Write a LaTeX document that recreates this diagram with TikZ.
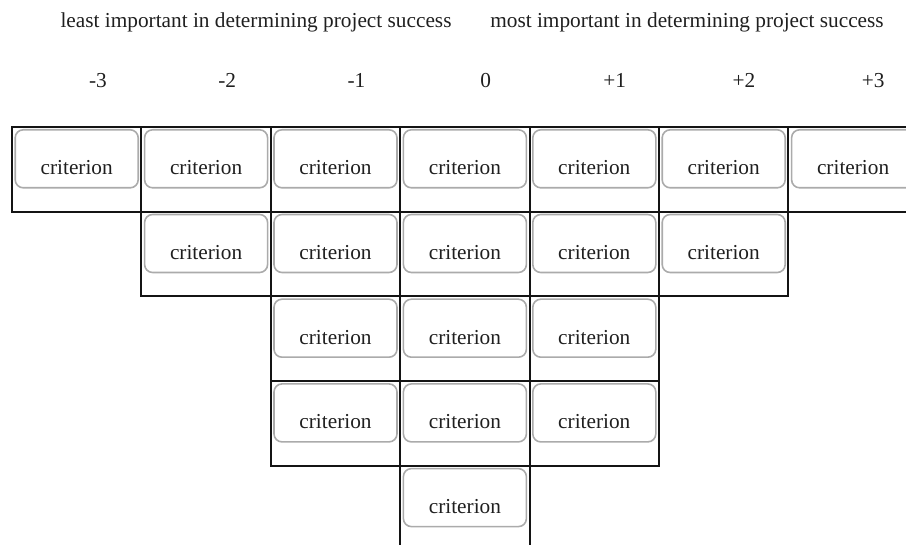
\documentclass[tikz,border=0pt]{standalone}
\usepackage{fontspec}
\setmainfont{Liberation Serif}
\usetikzlibrary{positioning}

\begin{document}
\begin{tikzpicture}[
    x=1pt, y=-1pt,
    every node/.style={
        font=\fontsize{21.3}{25}\selectfont,
        text=black!88
    },
    cell/.style={
        draw=black!92, line width=2pt,
        minimum width=129.4pt, minimum height=84.7pt,
        inner sep=0pt, anchor=north west
    },
    crit/.style={
        draw=black!33, line width=1.6pt,
        rounded corners=8pt,
        minimum width=123pt, minimum height=58pt,
        text height=32pt, text depth=0pt,
        inner sep=0pt
    }
]
\useasboundingbox (0,0) rectangle (906,545);

% headings
\node[anchor=base] (least) at (256,28) {least important in determining project success};
\node[anchor=base] (most) at (687,28) {most important in determining project success};

% scale and columns of cells
\foreach \col/\n [count=\i from 0] in {-3/1,-2/2,-1/4,0/5,+1/4,+2/2,+3/1} {
    \node[anchor=base] (lab\i) at ({98+129.2*\i},88) {\col};
    \foreach \r in {1,...,\n} {
        \node[cell] (c\i-\r) at ({11+129.4*\i},{126+84.7*(\r-1)}) {};
        \node[crit, below=3pt of c\i-\r.north] (k\i-\r) {criterion};
    }
}
\end{tikzpicture}
\end{document}
